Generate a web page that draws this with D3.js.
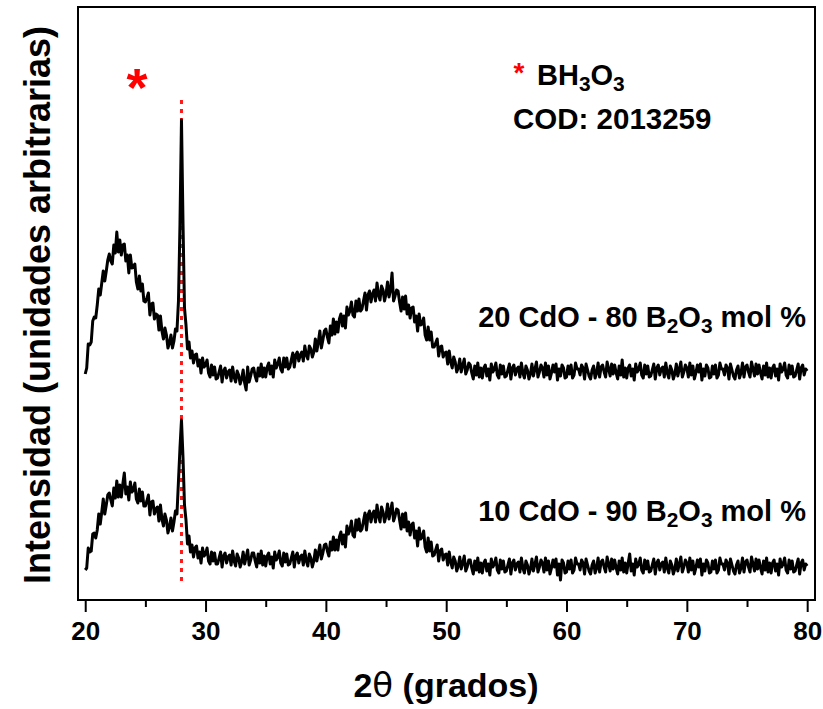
<!DOCTYPE html>
<html>
<head>
<meta charset="utf-8">
<script src="https://cdn.jsdelivr.net/npm/d3@7/dist/d3.min.js"></script>
<style>
  html, body { margin: 0; padding: 0; background: #fff; }
  svg { display: block; }
  text { font-family: "Liberation Sans", Arial, sans-serif; font-weight: bold; }
</style>
</head>
<body>
<svg id="chart" width="823" height="709"></svg>
<script>
// ---------- data ----------
const xTicks = [20, 30, 40, 50, 60, 70, 80];
const xMinorTicks = [25, 35, 45, 55, 65, 75];
const angleStart = 20, angleStep = 0.125;

// 20 CdO - 80 B2O3 mol % (intensity, arbitrary units; 8 values per degree, 20.000 .. 80.000)
const series20 = [
  226, 232, 256, 255, 258, 279, 283, 282,
  295, 311, 305, 317, 329, 319, 329, 340,
  346, 339, 336, 355, 347, 368, 348, 360,
  345, 355, 356, 339, 345, 327, 345, 332,
  333, 336, 318, 311, 324, 309, 316, 299,
  298, 302, 307, 285, 296, 297, 281, 286,
  285, 270, 284, 269, 261, 272, 265, 252,
  257, 265, 252, 259, 271, 269, 299, 376,
  480, 378, 292, 275, 251, 258, 242, 249,
  237, 245, 246, 234, 240, 227, 242, 233,
  235, 240, 227, 223, 235, 225, 233, 221,
  222, 228, 234, 218, 229, 232, 222, 228,
  230, 219, 233, 223, 218, 229, 225, 216,
  221, 230, 217, 210, 233, 218, 224, 231,
  232, 224, 219, 232, 224, 236, 223, 232,
  223, 233, 237, 226, 234, 223, 240, 232,
  236, 242, 231, 228, 242, 233, 242, 231,
  233, 240, 247, 233, 245, 248, 239, 245,
  248, 239, 254, 245, 241, 254, 251, 243,
  248, 261, 249, 258, 269, 252, 260, 269,
  271, 263, 257, 274, 265, 281, 266, 278,
  268, 281, 286, 274, 284, 272, 293, 285,
  289, 298, 285, 283, 299, 289, 301, 289,
  291, 299, 307, 290, 305, 309, 298, 306,
  310, 299, 317, 305, 300, 314, 310, 299,
  306, 318, 303, 310, 327, 299, 304, 310,
  309, 298, 289, 303, 291, 304, 286, 295,
  282, 292, 293, 278, 284, 269, 286, 275,
  276, 282, 265, 260, 273, 260, 268, 253,
  253, 257, 261, 244, 253, 254, 243, 247,
  248, 236, 249, 238, 232, 243, 238, 228,
  232, 241, 228, 235, 241, 226, 230, 237,
  235, 227, 221, 234, 225, 237, 223, 232,
  222, 232, 235, 224, 231, 220, 236, 228,
  231, 237, 225, 222, 235, 226, 234, 223,
  224, 230, 236, 221, 232, 235, 225, 231,
  233, 223, 237, 227, 222, 234, 230, 221,
  226, 236, 224, 231, 238, 223, 228, 235,
  232, 223, 237, 225, 234, 221, 227, 235,
  228, 236, 220, 231, 224, 235, 232, 222,
  223, 234, 226, 235, 222, 225, 237, 231,
  231, 225, 235, 232, 221, 236, 230, 224,
  221, 230, 234, 222, 227, 237, 223, 233,
  235, 228, 223, 238, 231, 224, 236, 226,
  235, 227, 221, 234, 225, 240, 223, 232,
  222, 232, 235, 224, 231, 220, 236, 228,
  231, 237, 225, 222, 235, 226, 234, 223,
  224, 230, 236, 221, 232, 235, 225, 231,
  233, 223, 237, 227, 222, 234, 230, 221,
  226, 236, 224, 231, 238, 223, 228, 235,
  232, 223, 237, 225, 234, 221, 227, 235,
  228, 236, 220, 231, 224, 235, 232, 222,
  223, 234, 226, 235, 222, 225, 237, 231,
  231, 225, 235, 232, 221, 236, 230, 224,
  221, 230, 234, 222, 227, 237, 223, 233,
  235, 228, 223, 238, 231, 224, 236, 226,
  235, 227, 221, 234, 225, 237, 223, 232,
  222, 232, 235, 224, 231, 220, 236, 228,
  231, 237, 225, 222, 235, 226, 234, 223,
  224, 230, 236, 221, 232, 235, 225, 231,
  229
];

// 10 CdO - 90 B2O3 mol %
const series10 = [
  30, 32, 52, 48, 49, 66, 67, 62,
  70, 86, 76, 88, 101, 86, 95, 105,
  107, 100, 94, 112, 102, 119, 103, 115,
  103, 116, 127, 106, 113, 100, 118, 108,
  110, 117, 101, 97, 111, 99, 108, 94,
  94, 99, 105, 85, 98, 99, 86, 91,
  93, 79, 95, 81, 74, 86, 80, 67,
  73, 82, 69, 78, 89, 86, 119, 152,
  180, 143, 95, 80, 56, 64, 48, 55,
  43, 52, 54, 42, 48, 37, 52, 44,
  46, 52, 39, 36, 48, 39, 47, 36,
  36, 42, 48, 33, 44, 47, 37, 43,
  45, 35, 49, 39, 34, 46, 42, 33,
  38, 48, 36, 43, 50, 35, 40, 47,
  47, 39, 33, 46, 37, 49, 35, 44,
  34, 44, 47, 36, 43, 32, 48, 40,
  43, 49, 37, 34, 47, 38, 46, 35,
  36, 42, 48, 33, 44, 47, 37, 43,
  45, 35, 49, 39, 34, 46, 42, 33,
  39, 50, 39, 47, 55, 41, 47, 55,
  56, 49, 44, 58, 50, 63, 50, 60,
  50, 63, 68, 56, 65, 53, 74, 66,
  70, 79, 65, 63, 80, 70, 81, 69,
  71, 79, 87, 70, 85, 89, 78, 86,
  89, 78, 95, 84, 78, 93, 88, 78,
  84, 96, 81, 89, 97, 79, 84, 91,
  90, 80, 71, 86, 73, 87, 69, 78,
  65, 75, 77, 62, 69, 54, 72, 61,
  63, 69, 53, 48, 62, 49, 58, 44,
  45, 50, 55, 39, 49, 51, 40, 45,
  46, 35, 48, 38, 32, 43, 39, 29,
  34, 43, 31, 37, 44, 29, 33, 40,
  40, 32, 26, 39, 30, 42, 28, 37,
  27, 37, 40, 29, 36, 25, 41, 33,
  36, 42, 30, 27, 40, 31, 39, 28,
  29, 35, 41, 26, 37, 40, 30, 36,
  38, 28, 42, 32, 27, 39, 35, 26,
  31, 41, 29, 36, 43, 28, 33, 40,
  37, 28, 42, 30, 39, 26, 32, 40,
  33, 41, 25, 36, 20, 40, 37, 27,
  28, 39, 31, 40, 27, 30, 42, 36,
  36, 30, 40, 37, 26, 41, 35, 29,
  26, 35, 39, 27, 32, 42, 28, 38,
  40, 33, 28, 43, 36, 29, 41, 31,
  40, 32, 26, 39, 30, 42, 28, 37,
  27, 37, 46, 29, 36, 25, 41, 33,
  36, 42, 30, 27, 40, 31, 39, 28,
  29, 35, 41, 26, 37, 40, 30, 36,
  38, 28, 42, 32, 27, 39, 35, 26,
  31, 41, 29, 36, 43, 28, 33, 40,
  37, 28, 42, 30, 39, 26, 32, 40,
  33, 41, 25, 36, 29, 40, 37, 27,
  28, 39, 31, 40, 27, 30, 42, 36,
  36, 30, 40, 37, 26, 41, 35, 29,
  26, 35, 39, 27, 32, 42, 28, 38,
  40, 33, 28, 43, 36, 29, 41, 31,
  40, 32, 26, 39, 30, 42, 28, 37,
  27, 37, 40, 29, 36, 25, 41, 33,
  36, 42, 30, 27, 40, 31, 39, 28,
  29, 35, 41, 26, 37, 40, 30, 36,
  34
];

const referencePeak = 28;      // BH3O3, COD 2013259
const xDomain = [19.4, 80.65];
const yDomain = [0, 593];

// ---------- drawing ----------
const svg = d3.select("#chart");
const plot = { left: 78, right: 815, top: 7, bottom: 600 };

const x = d3.scaleLinear().domain(xDomain).range([plot.left, plot.right]);
const y = d3.scaleLinear().domain(yDomain).range([plot.bottom, plot.top]);

svg.append("defs").append("clipPath").attr("id", "clip")
  .append("rect")
  .attr("x", plot.left).attr("y", plot.top)
  .attr("width", plot.right - plot.left).attr("height", plot.bottom - plot.top);

const toPoints = arr => arr.map((v, i) => ({ a: angleStart + i * angleStep, v }));

const line = d3.line().x(d => x(d.a)).y(d => y(d.v));

const g = svg.append("g").attr("clip-path", "url(#clip)");

// reference dotted line
g.append("line")
  .attr("x1", x(referencePeak)).attr("x2", x(referencePeak))
  .attr("y1", 100).attr("y2", 585)
  .attr("stroke", "#ff1a1a").attr("stroke-width", 3)
  .attr("stroke-dasharray", "4,5");

[series20, series10].forEach(s => {
  g.append("path")
    .datum(toPoints(s))
    .attr("d", line)
    .attr("fill", "none")
    .attr("stroke", "#000")
    .attr("stroke-width", 3)
    .attr("stroke-linejoin", "round");
});

// axes
const axisMajor = d3.axisBottom(x).tickValues(xTicks).tickSize(12).tickPadding(9.5).tickFormat(d3.format("d"));
const gx = svg.append("g").attr("transform", `translate(0,${plot.bottom})`).call(axisMajor);
gx.select(".domain").remove();
gx.selectAll(".tick line").attr("stroke", "#000").attr("stroke-width", 2);
gx.selectAll(".tick text").attr("font-size", 26).attr("fill", "#000")
  .style("font-family", "'Liberation Sans', Arial, sans-serif").style("font-weight", "bold");

const axisMinor = d3.axisBottom(x).tickValues(xMinorTicks).tickSize(7).tickFormat("");
const gm = svg.append("g").attr("transform", `translate(0,${plot.bottom})`).call(axisMinor);
gm.select(".domain").remove();
gm.selectAll(".tick line").attr("stroke", "#000").attr("stroke-width", 2);

// frame
svg.append("rect")
  .attr("x", plot.left).attr("y", plot.top)
  .attr("width", plot.right - plot.left).attr("height", plot.bottom - plot.top)
  .attr("fill", "none").attr("stroke", "#000").attr("stroke-width", 2);

// axis titles
const xt = svg.append("text")
  .attr("x", 446).attr("y", 697)
  .attr("text-anchor", "middle").attr("font-size", 34).attr("fill", "#000");
xt.append("tspan").text("2");
xt.append("tspan").style("font-family", "'DejaVu Sans', sans-serif").style("font-weight", "normal").text("θ");
xt.append("tspan").text(" (grados)");

svg.append("text")
  .attr("transform", "translate(50,305) rotate(-90)")
  .attr("text-anchor", "middle").attr("font-size", 36).attr("fill", "#000")
  .text("Intensidad (unidades arbitrarias)");

// helper for formula-like labels with subscripts
function formula(parent, parts, attrs) {
  const t = parent.append("text");
  Object.entries(attrs).forEach(([k, v]) => t.attr(k, v));
  parts.forEach(p => {
    const ts = t.append("tspan").text(p.t);
    if (p.sub) ts.attr("font-size", "0.72em").attr("dy", "0.28em");
    else if (p.after) ts.attr("dy", "-0.2em");
  });
  return t;
}

// sample labels
formula(svg, [
  { t: "20 CdO - 80 B" }, { t: "2", sub: true }, { t: "O", after: true }, { t: "3", sub: true }, { t: " mol %", after: true }
], { x: 806, y: 327, "text-anchor": "end", "font-size": 29, fill: "#000" });

formula(svg, [
  { t: "10 CdO - 90 B" }, { t: "2", sub: true }, { t: "O", after: true }, { t: "3", sub: true }, { t: " mol %", after: true }
], { x: 806, y: 521, "text-anchor": "end", "font-size": 29, fill: "#000" });

// legend text
svg.append("text").attr("x", 519).attr("y", 82).attr("text-anchor", "middle")
  .attr("font-size", 28).attr("fill", "#ff0000").text("*");
formula(svg, [
  { t: "BH" }, { t: "3", sub: true }, { t: "O", after: true }, { t: "3", sub: true }
], { x: 537, y: 85, "font-size": 29, fill: "#000" });
svg.append("text").attr("x", 513).attr("y", 129)
  .attr("font-size", 29.5).attr("fill", "#000").text("COD: 2013259");

// big red asterisk marking the peak
svg.append("text").attr("x", 137).attr("y", 106).attr("text-anchor", "middle")
  .attr("font-size", 54).attr("fill", "#ff0000").text("*");
</script>
</body>
</html>
